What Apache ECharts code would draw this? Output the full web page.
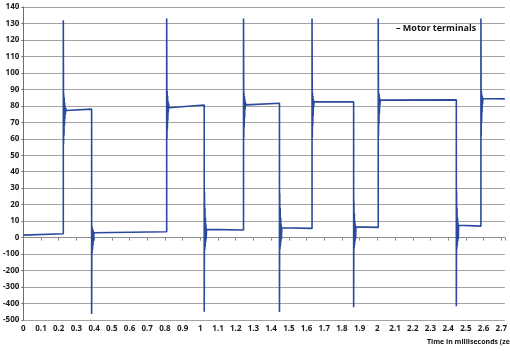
<!DOCTYPE html>
<html>
<head>
<meta charset="utf-8">
<script src="https://cdn.jsdelivr.net/npm/echarts@6/dist/echarts.min.js"></script>
<style>
  html, body { margin: 0; padding: 0; background: #fff; }
  #chart { width: 510px; height: 351px; }
</style>
</head>
<body>
<div id="chart"></div>
<script>
// voltage at the motor terminals
// (below 0 the axis is squeezed: one grid step = 100 instead of 10)
var timeMs = [
    0, 0.226,
    0.226, 0.2275, 0.2285, 0.230, 0.231, 0.2325, 0.2335, 0.235, 0.236, 0.238, 0.240, 0.243, 0.386,
    0.386, 0.3875, 0.389, 0.390, 0.3915, 0.393, 0.394, 0.3955, 0.397, 0.399, 0.402, 0.810,
    0.810, 0.8115, 0.8125, 0.814, 0.815, 0.8165, 0.8175, 0.819, 0.8205, 0.823, 0.826, 1.022,
    1.022, 1.0235, 1.025, 1.026, 1.0275, 1.029, 1.030, 1.0315, 1.033, 1.035, 1.038, 1.244,
    1.244, 1.2455, 1.2465, 1.248, 1.249, 1.2505, 1.2515, 1.253, 1.255, 1.258, 1.447,
    1.447, 1.4485, 1.450, 1.451, 1.4525, 1.454, 1.455, 1.4565, 1.458, 1.460, 1.463, 1.631,
    1.631, 1.6325, 1.6335, 1.635, 1.636, 1.6375, 1.6385, 1.640, 1.642, 1.645, 1.866,
    1.866, 1.8675, 1.869, 1.870, 1.8715, 1.873, 1.874, 1.8755, 1.877, 1.879, 1.882, 2.005,
    2.005, 2.0065, 2.0075, 2.009, 2.010, 2.0115, 2.0125, 2.014, 2.016, 2.019, 2.446,
    2.446, 2.4475, 2.449, 2.450, 2.4515, 2.453, 2.454, 2.4555, 2.457, 2.459, 2.462, 2.585,
    2.585, 2.5865, 2.5875, 2.589, 2.590, 2.5915, 2.5925, 2.594, 2.596, 2.599, 2.72
];
var volts = [
    1.5, 2.4,
    132, 57, 87, 62, 85, 68, 82, 72, 80, 75, 78.5, 77.2, 78,
    -464, 7, -94, 6, -70, 5, -45, 4, -20, 3, 2.4, 3.6,
    133, 60, 89, 66, 86, 71, 83, 76, 81.5, 78.8, 79.4, 80.5,
    -450, 28, -76, 18, -55, 12, -30, 8, -10, 5, 4.1, 4.6,
    133, 61, 88, 67, 86, 73, 84, 78, 82, 80.6, 81.6,
    -452, 27, -70, 18, -50, 12, -25, 8, -8, 6, 5, 5.6,
    133, 61, 88, 68, 86, 74, 84, 79, 82.5, 81.4, 82.4,
    -422, 22, -65, 15, -45, 10, -22, 8, -8, 6.5, 5.8, 6.2,
    133, 62, 88, 69, 87, 75, 85, 80, 83.5, 82.8, 83.6,
    -416, 28, -70, 18, -48, 12, -24, 9, -8, 7.5, 6.5, 7,
    133, 62, 89, 70, 87, 76, 86, 81, 84.5, 83.8, 84.2
];
var seriesName = 'Motor terminals';
var axisTitle = 'Time in milliseconds (zeit in ms)';

// squeeze negatives by 10 so they share the grid spacing
function squeeze(v) { return v < 0 ? v / 10 : v; }

var points = [];
for (var i = 0; i < timeMs.length; i++) {
    points.push([timeMs[i], squeeze(volts[i])]);
}

var labelFont = { fontFamily: 'Open Sans', fontWeight: 'bold', fontSize: 8, color: '#1a1a1a' };

var myChart = echarts.init(document.getElementById('chart'), null, { renderer: 'canvas' });
var option = {
    animation: false,
    backgroundColor: '#fff',
    grid: { left: 23, right: 0, top: 7, bottom: 31 },
    legend: {
        data: [{ name: seriesName, icon: 'none' }],
        left: 386,
        top: 16,
        itemWidth: 0,
        itemGap: 0,
        formatter: function (n) { return '\u2013 ' + n; },
        textStyle: { fontFamily: 'Open Sans', fontWeight: 'bold', fontSize: 9, color: '#111', padding: [0, 0, 0, 0] }
    },
    xAxis: {
        type: 'value',
        min: 0,
        max: 2.72,
        interval: 0.1,
        axisLine: { show: true, lineStyle: { color: '#8c8c8c', width: 1 } },
        axisTick: { show: true, length: 3, lineStyle: { color: '#8c8c8c' } },
        splitLine: { show: false },
        axisLabel: Object.assign({
            margin: 5,
            formatter: function (v) {
                var r = Math.round(v * 10);
                if (Math.abs(v * 10 - r) > 1e-6) return '';
                return String(r / 10);
            }
        }, labelFont)
    },
    yAxis: {
        type: 'value',
        min: -50,
        max: 140,
        interval: 10,
        axisLine: { show: true, lineStyle: { color: '#6e6e6e', width: 1 } },
        axisTick: { show: true, length: 2, lineStyle: { color: '#6e6e6e' } },
        splitLine: { show: true, lineStyle: { color: '#a3a3a3', width: 1 } },
        axisLabel: Object.assign({
            margin: 4,
            formatter: function (v) { return v < 0 ? String(v * 10) : String(v); }
        }, labelFont)
    },
    graphic: [{
        type: 'text',
        left: 427,
        top: 338,
        silent: true,
        style: {
            text: axisTitle,
            font: 'bold 7px "Liberation Sans Narrow", "Open Sans"',
            fill: '#111'
        }
    }],
    series: [{
        name: seriesName,
        type: 'line',
        data: points,
        showSymbol: false,
        symbol: 'none',
        sampling: false,
        clip: true,
        lineStyle: { color: '#2a4a9e', width: 1.6 },
        itemStyle: { color: '#2a4a9e' }
    }]
};
myChart.setOption(option, true);
</script>
</body>
</html>
